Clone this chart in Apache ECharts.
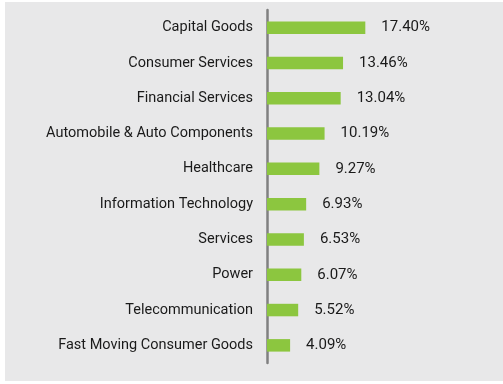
<!DOCTYPE html>
<html>
<head>
<meta charset="utf-8">
<script src="https://cdn.jsdelivr.net/npm/echarts@6/dist/echarts.min.js"></script>
<style>html,body{margin:0;padding:0;background:#fff;}#c{width:503px;height:384px;}</style>
</head>
<body>
<div id="c"></div>
<script>
const categories = ["Capital Goods","Consumer Services","Financial Services","Automobile & Auto Components","Healthcare","Information Technology","Services","Power","Telecommunication","Fast Moving Consumer Goods"];
const values = [17.40,13.46,13.04,10.19,9.27,6.93,6.53,6.07,5.52,4.09];

const chart = echarts.init(document.getElementById('c'));
chart.setOption({
  animation:false,
  backgroundColor:'#ffffff',
  graphic:[{type:'rect',shape:{x:5,y:2,width:498,height:379},style:{fill:'#e8e8e9'},z:-10}],
  grid:{left:267,top:10,width:113,bottom:21},
  xAxis:{type:'value',min:0,max:20,show:false},
  yAxis:{type:'category',data:categories,inverse:true,
    axisLine:{show:true,lineStyle:{color:'#808080',width:2.5}},
    axisTick:{show:false},
    axisLabel:{margin:14,fontFamily:'Roboto',fontSize:14.5,color:'#1a1a1a'}},
  series:[{type:'bar',data:values,barWidth:12.5,
    itemStyle:{color:'#8cc63f'},
    label:{show:true,position:'right',distance:16,fontFamily:'Roboto',fontSize:15,color:'#1a1a1a',
      formatter:p=>p.value.toFixed(2)+'%'}}]
});
</script>
</body>
</html>
